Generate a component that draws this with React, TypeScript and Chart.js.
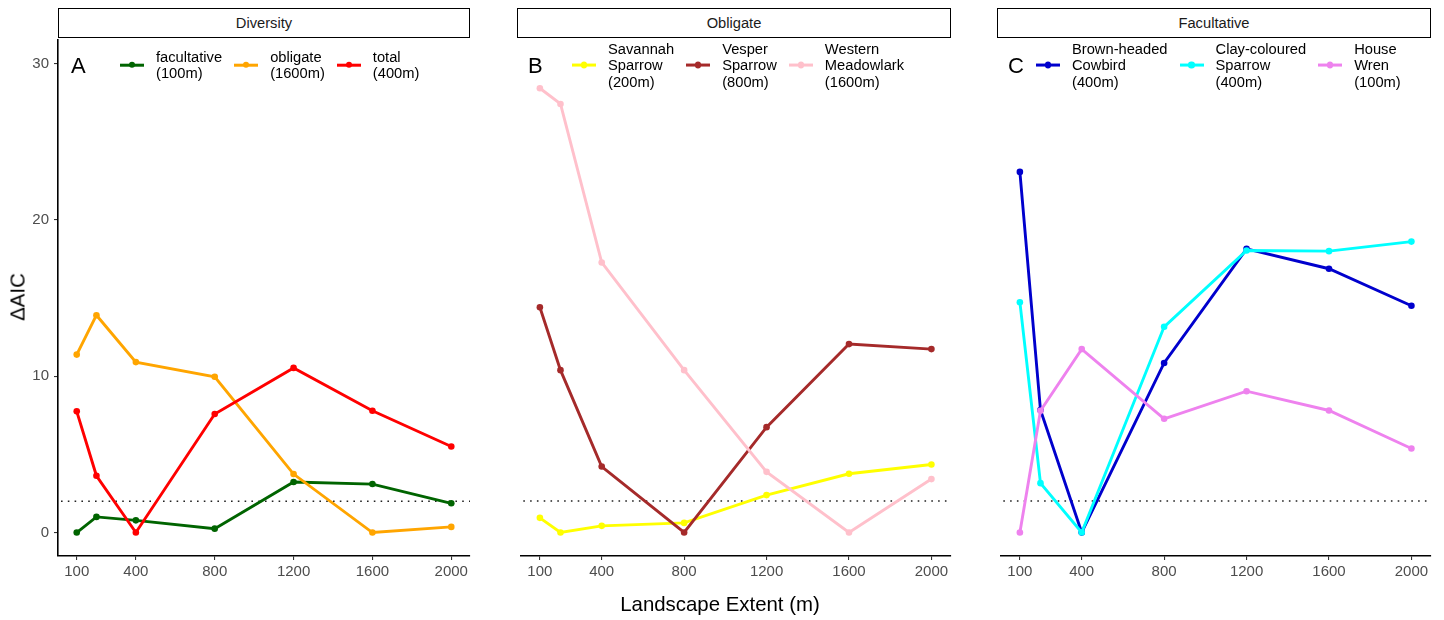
import React, { useEffect, useRef } from 'react';
import { Chart, registerables } from 'chart.js';

Chart.register(...registerables);

// ---------- data ----------
const EXTENTS = [100, 200, 400, 800, 1200, 1600, 2000];
const X_TICKS = [100, 400, 800, 1200, 1600, 2000];
const Y_TICKS = [0, 10, 20, 30];
const THRESHOLD = 2;

// Panel A – Diversity
const facultative = [0, 1.0, 0.78, 0.25, 3.23, 3.1, 1.87];
const obligate = [11.38, 13.9, 10.9, 9.96, 3.74, 0, 0.36];
const total = [7.75, 3.63, 0, 7.58, 10.53, 7.79, 5.5];

// Panel B – Obligate
const savannahSparrow = [0.93, 0, 0.42, 0.61, 2.38, 3.74, 4.33];
const vesperSparrow = [14.35, 10.34, 4.2, 0, 6.71, 12.0, 11.68];
const westernMeadowlark = [28.3, 27.3, 17.2, 10.34, 3.86, 0, 3.4];

// Panel C – Facultative
const brownHeadedCowbird = [22.97, 7.8, 0, 10.8, 18.07, 16.8, 14.44];
const clayColouredSparrow = [14.67, 3.14, 0, 13.1, 17.96, 17.92, 18.53];
const houseWren = [0, 7.75, 11.68, 7.24, 9.0, 7.77, 5.35];

const FONT = '"Liberation Sans", Arial, sans-serif';

type Series = { label: string[]; color: string; values: number[] };
type PanelDef = {
  title: string;
  letter: string;
  plotLeft: number;
  plotWidth: number;
  showY: boolean;
  letterLeft: number;
  legendLeft: number;
  series: Series[];
};

const PANELS: PanelDef[] = [
  {
    title: 'Diversity',
    letter: 'A',
    plotLeft: 58,
    plotWidth: 412,
    showY: true,
    letterLeft: 71,
    legendLeft: 120,
    series: [
      { label: ['facultative', '(100m)'], color: '#006400', values: facultative },
      { label: ['obligate', '(1600m)'], color: '#FFA500', values: obligate },
      { label: ['total', '(400m)'], color: '#FF0000', values: total },
    ],
  },
  {
    title: 'Obligate',
    letter: 'B',
    plotLeft: 517,
    plotWidth: 434,
    showY: false,
    letterLeft: 528,
    legendLeft: 572,
    series: [
      { label: ['Savannah', 'Sparrow', '(200m)'], color: '#FFFF00', values: savannahSparrow },
      { label: ['Vesper', 'Sparrow', '(800m)'], color: '#A52A2A', values: vesperSparrow },
      { label: ['Western', 'Meadowlark', '(1600m)'], color: '#FFC0CB', values: westernMeadowlark },
    ],
  },
  {
    title: 'Facultative',
    letter: 'C',
    plotLeft: 997,
    plotWidth: 434,
    showY: false,
    letterLeft: 1008,
    legendLeft: 1036,
    series: [
      { label: ['Brown-headed', 'Cowbird', '(400m)'], color: '#0000CD', values: brownHeadedCowbird },
      { label: ['Clay-coloured', 'Sparrow', '(400m)'], color: '#00FFFF', values: clayColouredSparrow },
      { label: ['House', 'Wren', '(100m)'], color: '#EE82EE', values: houseWren },
    ],
  },
];

const PLOT_TOP = 38;
const PLOT_BOTTOM = 556;
const PAD_TOP = 12;
const PAD_RIGHT = 10;
const X_AXIS_H = 40;

const thresholdPlugin = {
  id: 'thresholdLine',
  beforeDatasetsDraw(chart: any) {
    const { ctx, chartArea, scales } = chart;
    const y = scales.y.getPixelForValue(THRESHOLD);
    ctx.save();
    ctx.setLineDash([1.6, 5.2]);
    ctx.lineWidth = 1.6;
    ctx.strokeStyle = '#222';
    ctx.beginPath();
    ctx.moveTo(chartArea.left + 3, y);
    ctx.lineTo(chartArea.right, y);
    ctx.stroke();
    ctx.restore();
  },
};

function PanelChart({ def }: { def: PanelDef }) {
  const ref = useRef<HTMLCanvasElement | null>(null);
  const yAxisW = def.showY ? def.plotLeft : 0;
  const canvasLeft = def.showY ? 0 : def.plotLeft;
  const canvasWidth = yAxisW + def.plotWidth + PAD_RIGHT;
  const canvasTop = PLOT_TOP - PAD_TOP;
  const canvasHeight = PAD_TOP + (PLOT_BOTTOM - PLOT_TOP) + X_AXIS_H;

  useEffect(() => {
    if (!ref.current) return;
    const n = def.series.length;
    const chart = new Chart(ref.current, {
      type: 'line',
      data: {
        datasets: def.series.map((s, i) => ({
          label: s.label.join(' '),
          data: EXTENTS.map((x, j) => ({ x, y: s.values[j] })),
          borderColor: s.color,
          backgroundColor: s.color,
          borderWidth: 2.9,
          pointRadius: 3.3,
          pointBorderWidth: 0,
          pointHoverRadius: 3.3,
          tension: 0,
          clip: false as any,
          order: n - i,
        })),
      },
      options: {
        animation: false,
        responsive: false,
        maintainAspectRatio: false,
        layout: { padding: { top: PAD_TOP, right: PAD_RIGHT, left: 0, bottom: 0 } },
        plugins: { legend: { display: false }, tooltip: { enabled: false } },
        scales: {
          x: {
            type: 'linear',
            min: 5,
            max: 2095,
            afterBuildTicks: (scale: any) => {
              scale.ticks = X_TICKS.map((v) => ({ value: v }));
            },
            afterFit: (scale: any) => {
              scale.height = X_AXIS_H;
            },
            grid: {
              display: true,
              drawOnChartArea: false,
              drawTicks: true,
              tickLength: 4,
              color: '#333',
              lineWidth: 1.1,
            },
            border: { display: true, color: '#000', width: 1.6 },
            ticks: {
              color: '#4d4d4d',
              font: { family: FONT, size: 15 },
              padding: 3,
              maxRotation: 0,
              autoSkip: false,
              callback: (v: any) => String(v),
            },
          },
          y: {
            type: 'linear',
            display: def.showY,
            min: -1.5,
            max: 31.5,
            afterBuildTicks: (scale: any) => {
              scale.ticks = Y_TICKS.map((v) => ({ value: v }));
            },
            afterFit: (scale: any) => {
              scale.width = yAxisW;
            },
            grid: {
              display: true,
              drawOnChartArea: false,
              drawTicks: true,
              tickLength: 4,
              color: '#333',
              lineWidth: 1.1,
            },
            border: { display: true, color: '#000', width: 1.6 },
            ticks: {
              color: '#4d4d4d',
              font: { family: FONT, size: 15 },
              padding: 5,
              callback: (v: any) => String(v),
            },
          },
        },
      },
      plugins: [thresholdPlugin],
    } as any);
    return () => chart.destroy();
  }, [def]);

  return (
    <>
      <canvas
        ref={ref}
        width={canvasWidth}
        height={canvasHeight}
        style={{
          position: 'absolute',
          left: canvasLeft,
          top: canvasTop,
          width: canvasWidth,
          height: canvasHeight,
        }}
      />
      {/* facet strip */}
      <div
        style={{
          position: 'absolute',
          left: def.plotLeft,
          top: 8,
          width: def.plotWidth,
          height: PLOT_TOP - 8,
          boxSizing: 'border-box',
          border: '1.6px solid #000',
          background: '#fff',
          display: 'flex',
          alignItems: 'center',
          justifyContent: 'center',
          fontFamily: FONT,
          fontSize: 14.7,
          color: '#1a1a1a',
        }}
      >
        {def.title}
      </div>
      {/* panel letter */}
      <div
        style={{
          position: 'absolute',
          left: def.letterLeft,
          top: 66,
          transform: 'translateY(-50%)',
          fontFamily: FONT,
          fontSize: 22,
          lineHeight: '22px',
          color: '#000',
        }}
      >
        {def.letter}
      </div>
      {/* legend */}
      <div
        style={{
          position: 'absolute',
          left: def.legendLeft,
          top: 65,
          transform: 'translateY(-50%)',
          display: 'flex',
          alignItems: 'center',
          fontFamily: FONT,
          fontSize: 14.7,
          lineHeight: '16.3px',
          color: '#000',
          whiteSpace: 'nowrap',
        }}
      >
        {def.series.map((s, i) => (
          <div
            key={i}
            style={{ display: 'flex', alignItems: 'center', marginRight: 12 }}
          >
            <div style={{ position: 'relative', width: 24, height: 14 }}>
              <div
                style={{
                  position: 'absolute',
                  left: 0,
                  right: 0,
                  top: 5.5,
                  height: 3,
                  background: s.color,
                }}
              />
              <div
                style={{
                  position: 'absolute',
                  left: 8.8,
                  top: 3.8,
                  width: 6.4,
                  height: 6.4,
                  borderRadius: '50%',
                  background: s.color,
                }}
              />
            </div>
            <div style={{ marginLeft: 12 }}>
              {s.label.map((l, k) => (
                <div key={k}>{l}</div>
              ))}
            </div>
          </div>
        ))}
      </div>
    </>
  );
}

export default function App() {
  return (
    <div
      style={{
        position: 'absolute',
        left: 0,
        top: 0,
        width: 1444,
        height: 620,
        background: '#fff',
        overflow: 'hidden',
      }}
    >
      {PANELS.map((p, i) => (
        <PanelChart key={i} def={p} />
      ))}
      <div
        style={{
          position: 'absolute',
          left: 18,
          top: 297,
          transform: 'translate(-50%, -50%) rotate(-90deg)',
          fontFamily: FONT,
          fontSize: 20.4,
          color: '#000',
          whiteSpace: 'nowrap',
        }}
      >
        ΔAIC
      </div>
      <div
        style={{
          position: 'absolute',
          left: 720,
          top: 604,
          transform: 'translate(-50%, -50%)',
          fontFamily: FONT,
          fontSize: 20.4,
          color: '#000',
          whiteSpace: 'nowrap',
        }}
      >
        Landscape Extent (m)
      </div>
    </div>
  );
}
